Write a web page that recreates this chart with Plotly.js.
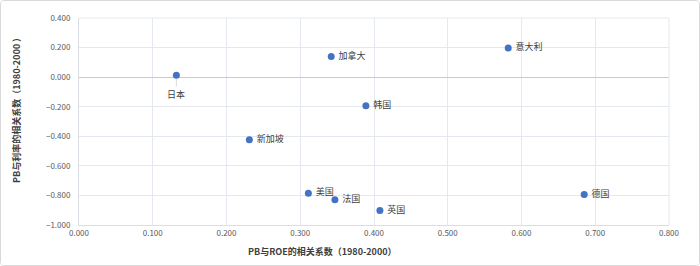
<!DOCTYPE html>
<html><head><meta charset="utf-8">
<script src="https://cdn.plot.ly/plotly-3.0.1.min.js"></script>
<style>
html,body{margin:0;padding:0;background:#fff;}
#wrap{width:700px;height:266px;box-sizing:border-box;border:1px solid #d9d9d9;border-radius:4px;overflow:hidden;}
#chart{width:698px;height:264px;}
</style></head>
<body><div id="wrap"><div id="chart"></div></div>
<script>
const countries = ["日本","加拿大","意大利","韩国","新加坡","美国","法国","英国","德国"];
const pbRoe =   [0.132, 0.342, 0.582, 0.389, 0.231, 0.311, 0.347, 0.408, 0.685];
const pbRate =  [0.012, 0.140, 0.197, -0.193, -0.423, -0.785, -0.830, -0.902, -0.794];
const xTitle = "PB与ROE的相关系数（1980-2000）";
const yTitle = "PB与利率的相关系数（1980-2000 ）";

const font = "'Noto Sans CJK SC','Microsoft YaHei',sans-serif";
const textPos = countries.map(c => c === "日本" ? "bottom center" : "middle right");
const labels = countries.map(c => c === "日本" ? "" : "\u00a0" + c);

const trace = {
  x: pbRoe, y: pbRate, text: labels, mode: "markers+text", type: "scatter",
  textposition: textPos,
  textfont: {family: font, size: 9, color: "#404040"},
  marker: {color: "#4472C4", size: 7},
  hoverinfo: "none", cliponaxis: false
};

const jpIdx = countries.indexOf("日本");
const layout = {
  width: 698, height: 264,
  margin: {l: 78, r: 30, t: 17, b: 40},
  paper_bgcolor: "#fff", plot_bgcolor: "#fff",
  showlegend: false,
  font: {family: font, size: 8, color: "#595959"},
  xaxis: {range: [0, 0.8], dtick: 0.1, tickformat: ".3f", showgrid: true, gridcolor: "#e4e8ef",
          zeroline: false, showline: true, linecolor: "#d9dde5", mirror: false, ticks: "",
          tickfont: {size: 8, color: "#595959"}, fixedrange: true},
  yaxis: {range: [-1.0, 0.4], dtick: 0.2, tickformat: ".3f", showgrid: true, gridcolor: "#e4e8ef",
          zeroline: true, zerolinecolor: "#c5cbd6", zerolinewidth: 1, showline: true, linecolor: "#d9dde5",
          ticks: "", ticklabelstandoff: 6, tickfont: {size: 8, color: "#595959"}, fixedrange: true},
  shapes: [
    {type: "line", xref: "paper", yref: "paper", x0: 0, x1: 1, y0: 1, y1: 1, line: {color: "#e4e8ef", width: 1}},
    {type: "line", xref: "paper", yref: "paper", x0: 1, x1: 1, y0: 0, y1: 1, line: {color: "#e4e8ef", width: 1}}
  ],
  annotations: [
    {x: pbRoe[jpIdx], y: pbRate[jpIdx], xref: "x", yref: "y", text: countries[jpIdx],
     showarrow: true, arrowhead: 0, arrowwidth: 0.6, arrowcolor: "#bfbfbf", ax: 0, ay: 11,
     yanchor: "top", font: {family: font, size: 9, color: "#404040"}, standoff: 3},
    {text: "<b>" + xTitle + "</b>", xref: "paper", yref: "paper", x: 0.412, y: -0.085,
     xanchor: "center", yanchor: "top", showarrow: false, font: {family: font, size: 9, color: "#404040"}},
    {text: "<b>" + yTitle + "</b>", xref: "paper", yref: "paper", x: -0.107, y: 0.565,
     xanchor: "center", yanchor: "middle", textangle: -90, showarrow: false,
     font: {family: font, size: 9, color: "#404040"}}
  ]
};
Plotly.newPlot("chart", [trace], layout, {staticPlot: true, displayModeBar: false});
</script></body></html>
